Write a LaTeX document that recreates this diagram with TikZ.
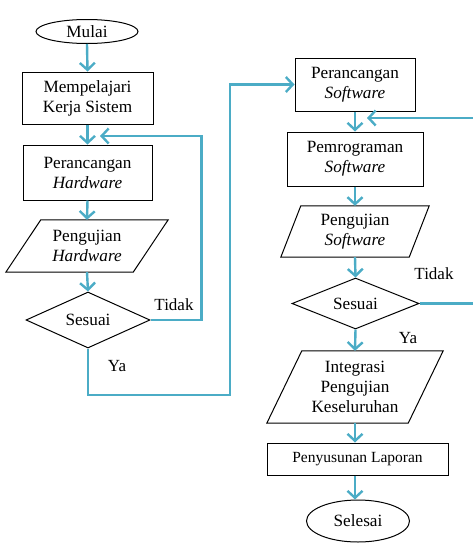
\documentclass[tikz,border=0pt]{standalone}
\usepackage{fontspec}
\setmainfont{Liberation Serif}
\usetikzlibrary{shapes.geometric,arrows.meta}
\definecolor{flow}{HTML}{4BACC6}
\tikzset{
  shp/.style={draw=black, line width=1pt},
  txt/.style={font=\fontsize{17.2}{20}\selectfont, align=center, inner sep=0pt},
  procbox/.style={shp, txt, rectangle, minimum width=#1},
  term/.style={shp, txt, ellipse, inner sep=0pt},
  decis/.style={shp, txt, diamond, inner sep=0pt},
  iobox/.style={txt, rectangle},
  arr/.style={draw=flow, line width=2.4pt, -{Straight Barb[length=7pt,width=15pt]}},
  lbl/.style={font=\fontsize{17}{19}\selectfont, inner sep=0pt}
}
\begin{document}
\begin{tikzpicture}[x=1pt,y=-1pt]
\useasboundingbox (0,0) rectangle (473,546);
\clip (0,0) rectangle (473,546);
% left column
\node[term, minimum width=102, minimum height=24] (mulai) at (87,31.5) {};
\node[txt] at (mulai) {Mulai};
\node[procbox=131, minimum height=52] (mp) at (87.5,98) {Mempelajari\\Kerja Sistem};
\node[procbox=129, minimum height=55] (phw) at (87.5,172.5) {Perancangan\\\textit{Hardware}};
\node[iobox, minimum width=162, minimum height=52] (pgh) at (87,246) {Pengujian\\\textit{Hardware}};
\draw[shp] ([xshift=35]pgh.north west) -- (pgh.north east) -- ([xshift=-35]pgh.south east) -- (pgh.south west) -- cycle;
\node[decis, minimum width=124, minimum height=56] (s1) at (88,320) {};
\node[txt] at (s1) {Sesuai};
\coordinate (t1) at (100,136);
\coordinate (c1) at (230,395);
% right column
\node[procbox=120, minimum height=53] (ps) at (355,84.5) {Perancangan\\\textit{Software}};
\node[procbox=136, minimum height=54] (pm) at (355,159) {Pemrograman\\\textit{Software}};
\node[iobox, minimum width=148, minimum height=51] (pgs) at (355,231.5) {Pengujian\\\textit{Software}};
\draw[shp] ([xshift=20]pgs.north west) -- (pgs.north east) -- ([xshift=-20]pgs.south east) -- (pgs.south west) -- cycle;
\node[decis, minimum width=127, minimum height=51] (s2) at (355.5,303.5) {};
\node[txt] at (s2) {Sesuai};
\node[iobox, minimum width=176, minimum height=72] (int) at (355,387) {Integrasi\\Pengujian\\Keseluruhan};
\draw[shp] ([xshift=35]int.north west) -- (int.north east) -- ([xshift=-35]int.south east) -- (int.south west) -- cycle;
\node[procbox=181, minimum height=32, font=\fontsize{15.5}{18}\selectfont] (lap) at (357.5,459) {Penyusunan Laporan};
\node[term, minimum width=103, minimum height=42] (sel) at (358,521) {Selesai};
\coordinate (t2) at (367,118);
% connectors
\draw[arr] (mulai.south) -- (mp.north);
\draw[arr] (mp.south) -- (phw.north);
\draw[arr] (phw.south) -- (pgh.north);
\draw[arr] (pgh.south) -- (s1.north);
\draw[arr] (s1.east) -- ++(51,0) |- (t1);
\draw[arr] (s1.south) |- (c1) |- (ps.west);
\draw[arr] (ps.south) -- (pm.north);
\draw[arr] (pm.south) -- (pgs.north);
\draw[arr] (pgs.south) -- (s2.north);
\draw[arr] (s2.east) -- (480,303.5) |- (t2);
\draw[arr] (s2.south) -- (int.north);
\draw[arr] (int.south) -- (int.south |- lap.north);
\draw[arr] (lap.south -| int.south) -- (int.south |- sel.north);
% labels
\node[lbl] at (174,305) {Tidak};
\node[lbl] at (117,366) {Ya};
\node[lbl] at (434,274) {Tidak};
\node[lbl] at (408,338) {Ya};
\end{tikzpicture}
\end{document}
